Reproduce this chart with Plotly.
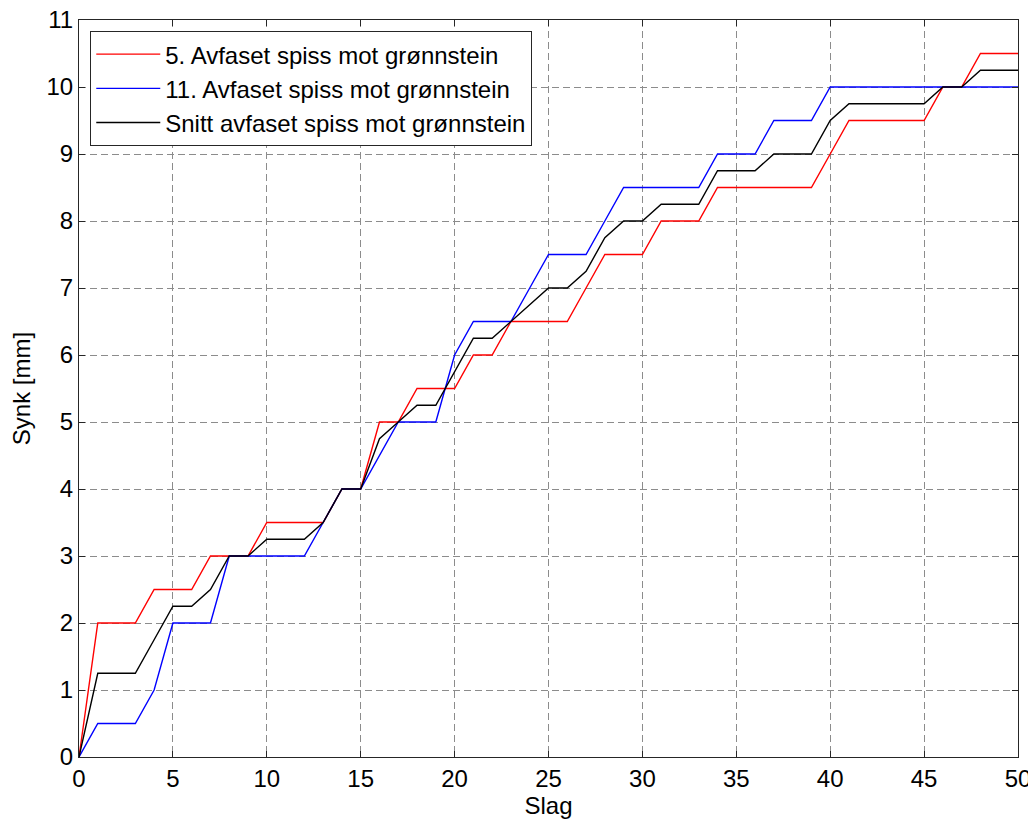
import plotly.graph_objects as go

slag = list(range(0, 51))

red_5 = [0, 2, 2, 2, 2.5, 2.5, 2.5, 3, 3, 3,
         3.5, 3.5, 3.5, 3.5, 4, 4, 5, 5, 5.5, 5.5,
         5.5, 6, 6, 6.5, 6.5, 6.5, 6.5, 7, 7.5, 7.5,
         7.5, 8, 8, 8, 8.5, 8.5, 8.5, 8.5, 8.5, 8.5,
         9, 9.5, 9.5, 9.5, 9.5, 9.5, 10, 10, 10.5, 10.5,
         10.5]

blue_11 = [0, 0.5, 0.5, 0.5, 1, 2, 2, 2, 3, 3,
           3, 3, 3, 3.5, 4, 4, 4.5, 5, 5, 5,
           6, 6.5, 6.5, 6.5, 7, 7.5, 7.5, 7.5, 8, 8.5,
           8.5, 8.5, 8.5, 8.5, 9, 9, 9, 9.5, 9.5, 9.5,
           10, 10, 10, 10, 10, 10, 10, 10, 10, 10,
           10]

snitt = [0, 1.25, 1.25, 1.25, 1.75, 2.25, 2.25, 2.5, 3, 3,
         3.25, 3.25, 3.25, 3.5, 4, 4, 4.75, 5, 5.25, 5.25,
         5.75, 6.25, 6.25, 6.5, 6.75, 7, 7, 7.25, 7.75, 8,
         8, 8.25, 8.25, 8.25, 8.75, 8.75, 8.75, 9, 9, 9,
         9.5, 9.75, 9.75, 9.75, 9.75, 9.75, 10, 10, 10.25, 10.25,
         10.25]

names = ["5. Avfaset spiss mot grønnstein",
         "11. Avfaset spiss mot grønnstein",
         "Snitt avfaset spiss mot grønnstein"]
colors = ["#ff0000", "#0000ff", "#000000"]

x_ticks = list(range(0, 51, 5))
y_ticks = list(range(0, 12))

fig = go.Figure()
for i, (ys, name, col) in enumerate(zip([red_5, blue_11, snitt], names, colors)):
    fig.add_trace(go.Scatter(x=slag, y=ys, mode="lines", name=name,
                             legendgroup=f"g{i}",
                             line=dict(color=col, width=1.4)))

font_family = "Liberation Sans, Arial, sans-serif"
axis_common = dict(
    showline=True, linecolor="#262626", linewidth=1, mirror="ticks",
    ticks="inside", ticklen=6, tickcolor="#262626", tickwidth=1,
    showgrid=True, gridcolor="#8c8c8c", gridwidth=1, griddash="7px,4px",
    zeroline=False, automargin=False, ticklabeloverflow="allow",
    tickfont=dict(family=font_family, size=24, color="black"),
)

# page body has an 8px margin, so the figure is sized/placed to compensate
fig.update_layout(
    width=1028, height=817,
    margin=dict(l=71, r=18, t=12, b=68),
    paper_bgcolor="white", plot_bgcolor="white",
    font=dict(family=font_family, size=24, color="black"),
    xaxis=dict(range=[0, 50], tickvals=x_ticks,
               title=dict(text="Slag", font=dict(size=24), standoff=4),
               **axis_common),
    yaxis=dict(range=[0, 11], tickvals=y_ticks,
               title=dict(text="Synk [mm]", font=dict(size=24), standoff=12),
               **axis_common),
    legend=dict(x=0.012, y=0.985, xanchor="left", yanchor="top",
                bgcolor="white", bordercolor="#262626", borderwidth=1,
                font=dict(family=font_family, size=24, color="black"),
                tracegroupgap=0, itemwidth=64),
    showlegend=True,
)

fig.write_html("out.html")
